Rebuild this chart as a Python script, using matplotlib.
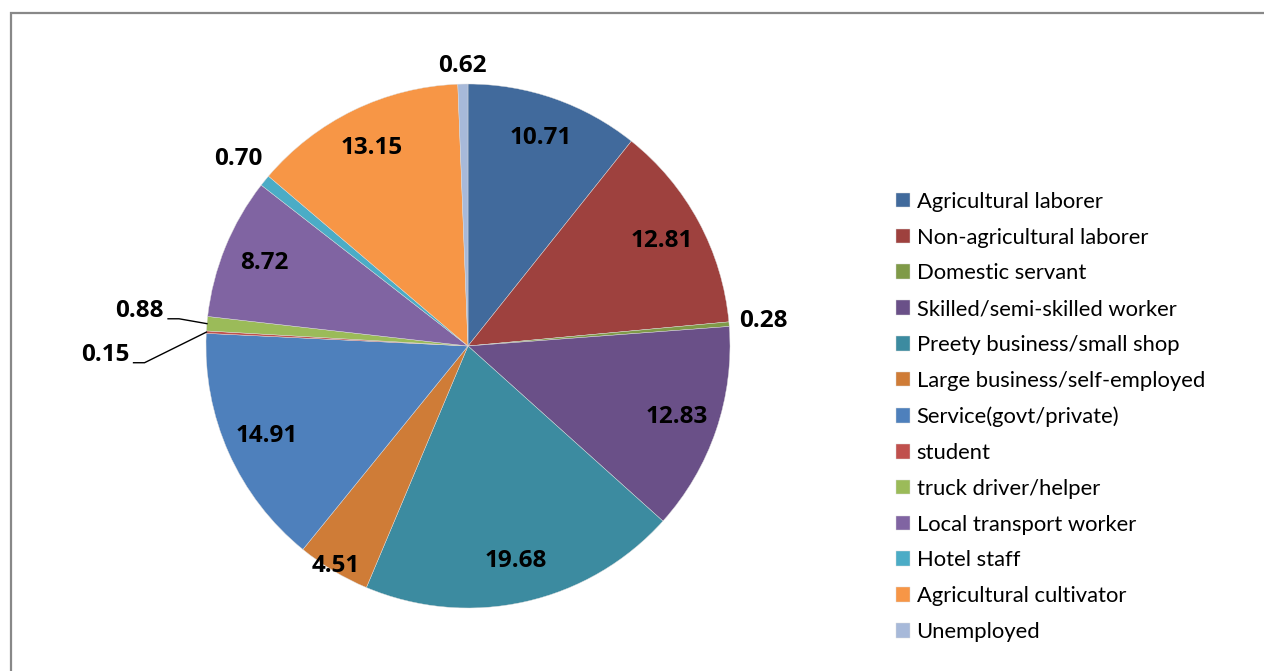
import numpy as np
import matplotlib
matplotlib.use("Agg")
from matplotlib import pyplot as plt
from matplotlib.patches import Rectangle

plt.rcParams['font.family'] = ['Lato', 'DejaVu Sans']

# data
categories = ["Agricultural laborer", "Non-agricultural laborer", "Domestic servant",
              "Skilled/semi-skilled worker", "Preety business/small shop",
              "Large business/self-employed", "Service(govt/private)", "student",
              "truck driver/helper", "Local transport worker", "Hotel staff",
              "Agricultural cultivator", "Unemployed"]
values = [10.71, 12.81, 0.28, 12.83, 19.68, 4.51, 14.91, 0.15, 0.88, 8.72, 0.70, 13.15, 0.62]
value_labels = ["10.71", "12.81", "0.28", "12.83", "19.68", "4.51", "14.91",
                "0.15", "0.88", "8.72", "0.70", "13.15", "0.62"]

colors = ["#416A9C", "#9E413E", "#7F9A48", "#6A5088", "#3C8BA0", "#CF7C37", "#4E80BC",
          "#C0504D", "#9BBB59", "#8064A2", "#4BACC6", "#F79646", "#A7B9D9"]

W, H = 1264, 671
fig = plt.figure(figsize=(W / 100, H / 100), dpi=100)

# pie centre (468, 346) px, radius 262 px
cx, cy, R = 468, 346, 262
s = 1.45
ax = fig.add_axes([(cx - R * s) / W, (H - cy - R * s) / H, 2 * R * s / W, 2 * R * s / H])

wedges, _ = ax.pie(values, colors=colors, startangle=90, counterclock=False,
                   radius=1.0, wedgeprops=dict(linewidth=0.3, edgecolor="#dddddd"))
ax.set_xlim(-s, s)
ax.set_ylim(-s, s)
ax.axis("off")

lab_font = dict(family=["Open Sans", "DejaVu Sans"], fontsize=17.5, fontweight="bold")

# label distance (fraction of radius), default inside
lab_r = {2: 1.13, 5: 0.98, 10: 1.13, 12: 1.07}
# labels with leader lines: (text r, text angle, elbow x-span)
leader = {8: (1.26, 173.9, 0.042), 7: (1.385, 181.4, 0.042)}

for i, w in enumerate(wedges):
    mid = np.deg2rad((w.theta1 + w.theta2) / 2)
    if i in leader:
        r, ang, span = leader[i]
        a = np.deg2rad(ang)
        tx, ty = r * np.cos(a), r * np.sin(a)
        ax.text(tx, ty, value_labels[i], ha="center", va="center", **lab_font)
        ex, ey = np.cos(mid), np.sin(mid)
        ly = ty - 0.03
        x0 = tx + 0.108
        ax.plot([x0, x0 + span, ex], [ly, ly, ey], color="black", lw=1.0)
        continue
    r = lab_r.get(i, 0.84)
    ax.text(r * np.cos(mid), r * np.sin(mid), value_labels[i], ha="center", va="center",
            **lab_font)

fig.legend(wedges, categories, loc="upper left", bbox_to_anchor=(887 / W, 1 - 183 / H),
           frameon=False, fontsize=15.8, handlelength=0.65, handleheight=0.65,
           handletextpad=0.3, labelspacing=0.72, borderaxespad=0)

fig.patches.append(Rectangle((11 / W, -0.1), 1.2, 1.1 - 13 / H, transform=fig.transFigure,
                             fill=False, edgecolor="#888888", linewidth=1.6))

fig.savefig("out.png", dpi=100)
